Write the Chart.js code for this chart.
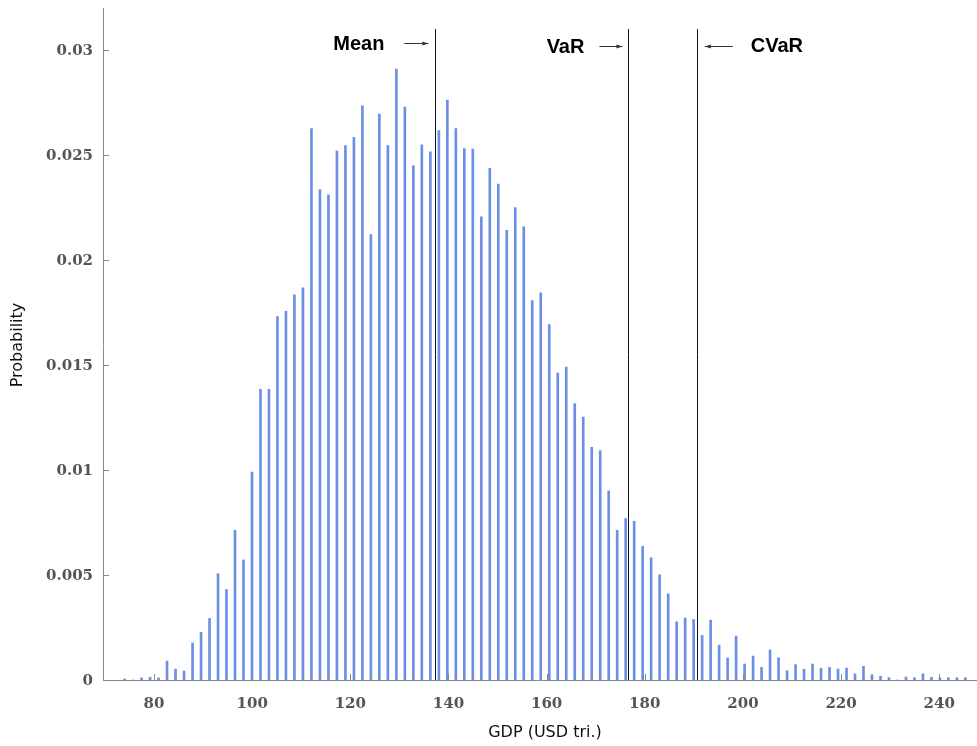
<!DOCTYPE html>
<html lang="en">
  <head>
    <meta charset="UTF-8" />
    <title>GDP distribution</title>
    <style>
      * {
        margin: 0;
        padding: 0;
        box-sizing: border-box;
      }
      body {
        background: white;
      }
      .chartBox {
        width: 977px;
        height: 746px;
      }
    </style>
  </head>
  <body>
    <div class="chartBox">
      <canvas id="myChart" width="977" height="746"></canvas>
    </div>

    <script src="https://cdn.jsdelivr.net/npm/chart.js"></script>
    <script>
      // bin centres (USD tri.) and probability of each bin
      const gdpBins = [
        74.0, 75.73, 77.46, 79.19, 80.92, 82.65, 84.38, 86.11, 87.85, 89.58,
        91.31, 93.04, 94.77, 96.5, 98.23, 99.96, 101.69, 103.42, 105.15, 106.88,
        108.61, 110.34, 112.08, 113.81, 115.54, 117.27, 119.0, 120.73, 122.46, 124.19,
        125.92, 127.65, 129.38, 131.11, 132.84, 134.57, 136.31, 138.04, 139.77, 141.5,
        143.23, 144.96, 146.69, 148.42, 150.15, 151.88, 153.61, 155.34, 157.07, 158.8,
        160.54, 162.27, 164.0, 165.73, 167.46, 169.19, 170.92, 172.65, 174.38, 176.11,
        177.84, 179.57, 181.3, 183.03, 184.77, 186.5, 188.23, 189.96, 191.69, 193.42,
        195.15, 196.88, 198.61, 200.34, 202.07, 203.8, 205.53, 207.26, 209.0, 210.73,
        212.46, 214.19, 215.92, 217.65, 219.38, 221.11, 222.84, 224.57, 226.3, 228.03,
        229.76, 231.49, 233.23, 234.96, 236.69, 238.42, 240.15, 241.88, 243.61, 245.34,
      ];
      const probability = [
        0.00005, 0, 0.0001, 0.00013, 0.0001, 0.0009, 0.00052, 0.00043, 0.00176, 0.00227,
        0.00293, 0.00506, 0.00431, 0.00713, 0.00572, 0.0099, 0.01384, 0.01384, 0.01731, 0.01756,
        0.01834, 0.01867, 0.02626, 0.02335, 0.0231, 0.02519, 0.02545, 0.02584, 0.02734, 0.02121,
        0.02695, 0.02545, 0.02909, 0.02728, 0.02449, 0.02549, 0.02515, 0.02616, 0.02762, 0.02626,
        0.02531, 0.02528, 0.02206, 0.02436, 0.02362, 0.02141, 0.0225, 0.02158, 0.01807, 0.01844,
        0.01692, 0.01462, 0.0149, 0.01316, 0.01252, 0.01108, 0.01092, 0.009, 0.00713, 0.00769,
        0.00756, 0.00636, 0.00582, 0.00501, 0.0041, 0.00277, 0.00295, 0.00288, 0.00212, 0.00285,
        0.00166, 0.00105, 0.00209, 0.00076, 0.00114, 0.0006, 0.00143, 0.00106, 0.00044, 0.00073,
        0.00051, 0.00076, 0.00056, 0.0006, 0.00052, 0.00057, 0.00029, 0.00065, 0.00025, 0.00018,
        0.00011, 0, 0.00014, 0.00011, 0.0003, 0.00013, 0.0001, 0.00011, 0.00011, 0.00011,
      ];
      const xTicks = [80, 100, 120, 140, 160, 180, 200, 220, 240];
      const yTicks = [0, 0.005, 0.01, 0.015, 0.02, 0.025, 0.03];

      // reference lines: mean, value at risk, conditional value at risk
      const markerNames = ["Mean", "VaR", "CVaR"];
      const markerValues = [137.33, 176.67, 190.6];
      const markerTop = 0.031;

      const tickFont = { family: "DejaVu Serif", size: 15, weight: "bold" };
      const axisGray = "#8a8a8a";

      // tick marks inside the plot area, y labels and axis titles
      const axisDecor = {
        id: "axisDecor",
        afterDraw(chart) {
          const {
            ctx,
            chartArea: { left, right, bottom },
            scales: { x, y },
          } = chart;
          ctx.save();
          ctx.strokeStyle = axisGray;
          ctx.lineWidth = 1;
          ctx.beginPath();
          xTicks.forEach((v) => {
            const px = Math.round(x.getPixelForValue(v)) + 0.5;
            ctx.moveTo(px, bottom);
            ctx.lineTo(px, bottom - 6);
          });
          yTicks.forEach((v) => {
            const py = Math.round(y.getPixelForValue(v)) + 0.5;
            ctx.moveTo(left, py);
            ctx.lineTo(left + 6, py);
          });
          ctx.stroke();

          ctx.fillStyle = "#555";
          ctx.font = "bold 15px 'DejaVu Serif'";
          ctx.textAlign = "right";
          ctx.textBaseline = "middle";
          yTicks.forEach((v) => {
            ctx.fillText(String(+v.toFixed(3)), left - 10, y.getPixelForValue(v) + 1);
          });

          ctx.fillStyle = "#111";
          ctx.font = "16px 'DejaVu Sans'";
          ctx.textAlign = "center";
          ctx.fillText("GDP (USD tri.)", (left + right) / 2 + 5, 733);
          ctx.translate(18, 345);
          ctx.rotate(-Math.PI / 2);
          ctx.fillText("Probability", 0, 0);
          ctx.restore();
        },
      };

      // vertical marker lines with labels and arrows
      const markerLines = {
        id: "markerLines",
        afterDatasetsDraw(chart) {
          const {
            ctx,
            chartArea: { bottom },
            scales: { x, y },
          } = chart;
          const top = y.getPixelForValue(markerTop);
          ctx.save();
          ctx.strokeStyle = "#111";
          ctx.lineWidth = 1;
          markerValues.forEach((v) => {
            const px = Math.round(x.getPixelForValue(v)) + 0.5;
            ctx.beginPath();
            ctx.moveTo(px, top);
            ctx.lineTo(px, bottom);
            ctx.stroke();
          });

          const arrow = (x1, x2, yy) => {
            const dir = Math.sign(x2 - x1);
            ctx.strokeStyle = "#333";
            ctx.fillStyle = "#333";
            ctx.lineWidth = 1;
            ctx.beginPath();
            ctx.moveTo(x1, yy);
            ctx.lineTo(x2, yy);
            ctx.stroke();
            ctx.beginPath();
            ctx.moveTo(x2, yy);
            ctx.lineTo(x2 - dir * 6, yy - 2);
            ctx.lineTo(x2 - dir * 6, yy + 2);
            ctx.closePath();
            ctx.fill();
          };

          ctx.font = "bold 20px 'Liberation Sans', Arial, sans-serif";
          ctx.textBaseline = "middle";

          const mx = x.getPixelForValue(markerValues[0]);
          ctx.fillStyle = "#000";
          ctx.textAlign = "right";
          ctx.fillText(markerNames[0], mx - 51, 44);
          arrow(mx - 31, mx - 7, 43.5);

          const vx = x.getPixelForValue(markerValues[1]);
          ctx.fillStyle = "#000";
          ctx.fillText(markerNames[1], vx - 44, 47);
          arrow(vx - 29, vx - 6, 46.5);

          const cx = x.getPixelForValue(markerValues[2]);
          ctx.fillStyle = "#000";
          ctx.textAlign = "left";
          ctx.fillText(markerNames[2], cx + 54, 46);
          arrow(cx + 36, cx + 8, 46.5);
          ctx.restore();
        },
      };

      const data = {
        datasets: [
          {
            label: "Probability",
            data: gdpBins.map((g, i) => ({ x: g, y: probability[i] })),
            backgroundColor: "#6b8fe4",
            barThickness: 2,
            grouped: false,
          },
        ],
      };

      const config = {
        type: "bar",
        data: data,
        options: {
          responsive: false,
          animation: false,
          layout: { padding: { top: 8, left: 0, right: 0, bottom: 0 } },
          plugins: {
            legend: { display: false },
            tooltip: { enabled: false },
          },
          scales: {
            x: {
              type: "linear",
              offset: false,
              min: 69.6,
              max: 247.7,
              grid: { display: false, drawTicks: false, offset: false },
              border: { display: true, color: axisGray, width: 1 },
              ticks: { font: tickFont, color: "#555", padding: 15 },
              afterBuildTicks: (s) => {
                s.ticks = xTicks.map((v) => ({ value: v }));
              },
              afterFit: (s) => {
                s.height = 66;
              },
            },
            y: {
              min: 0,
              max: 0.032,
              grid: { display: false, drawTicks: false },
              border: { display: true, color: axisGray, width: 1 },
              ticks: { display: false, padding: 0 },
              afterFit: (s) => {
                s.width = 103;
              },
            },
          },
        },
        plugins: [markerLines, axisDecor],
      };

      const myChart = new Chart(document.getElementById("myChart"), config);
    </script>
  </body>
</html>
